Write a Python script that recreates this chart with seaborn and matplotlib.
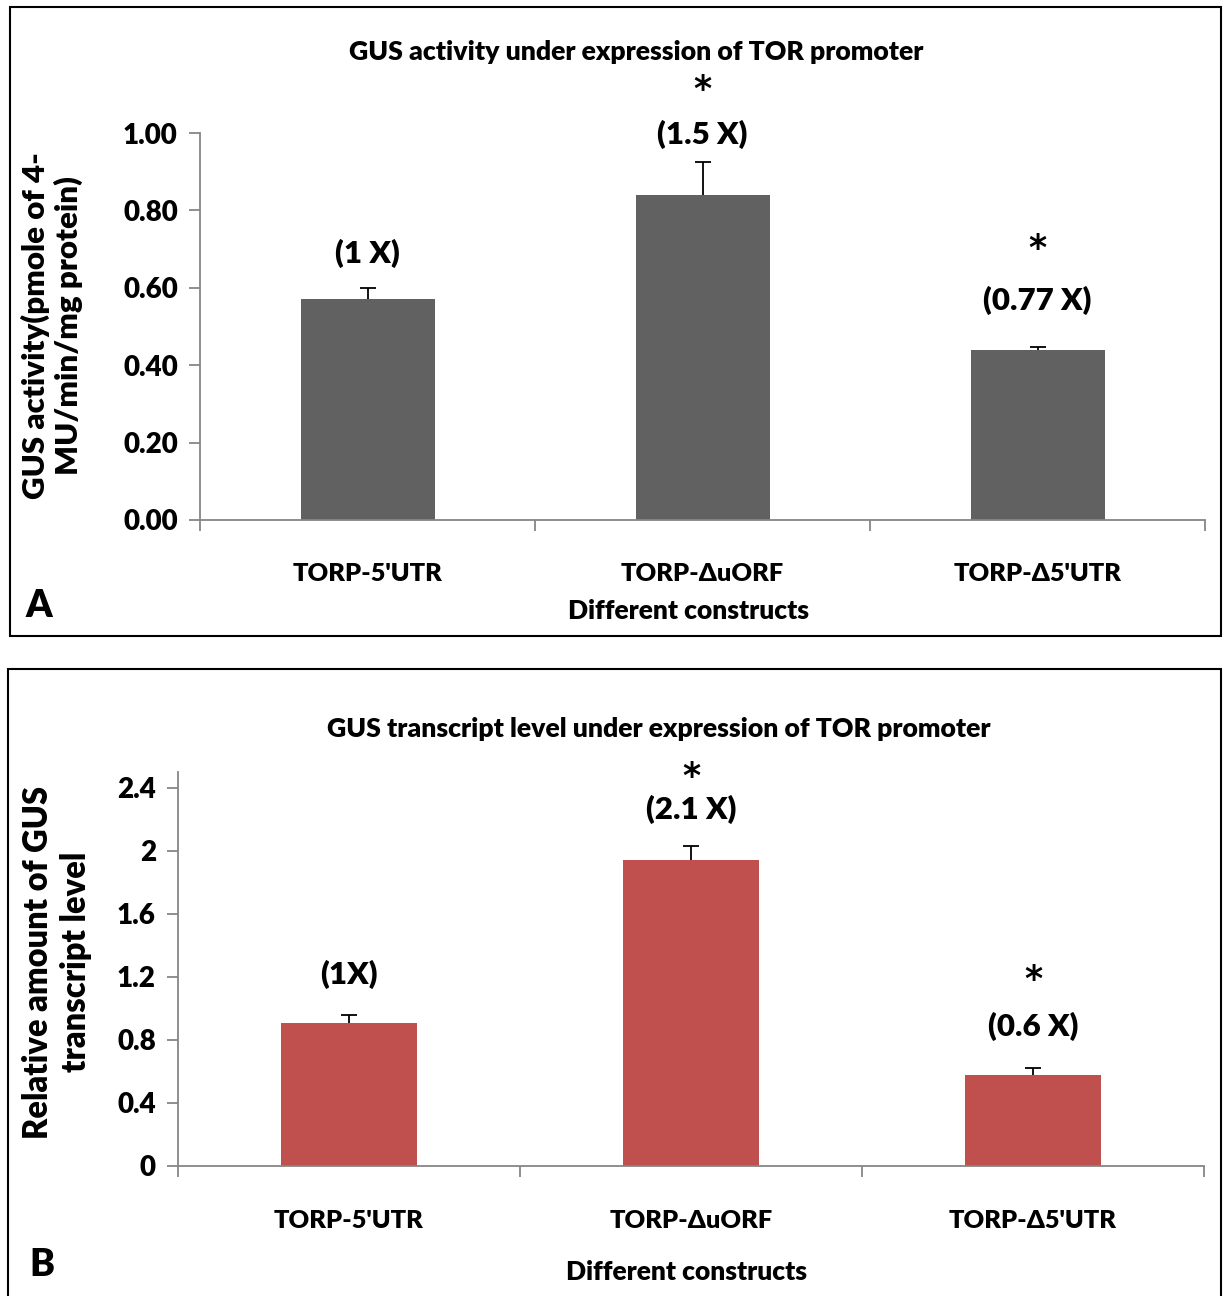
import matplotlib
matplotlib.use("Agg")
import matplotlib.pyplot as plt
from matplotlib.patches import Rectangle
import seaborn as sns
import pandas as pd

sns.set_style("white")
plt.rcParams['font.family'] = ['Lato', 'DejaVu Sans']
plt.rcParams['font.weight'] = 'heavy'
plt.rcParams['text.color'] = 'black'
plt.rcParams['xtick.color'] = 'black'
plt.rcParams['ytick.color'] = 'black'

BOLD = "heavy"

constructs = ["TORP-5'UTR", "TORP-ΔuORF", "TORP-Δ5'UTR"]

# Panel A: GUS activity
gus_activity = [0.57, 0.84, 0.44]
gus_activity_err = [0.03, 0.085, 0.007]
activity_fold = ["(1 X)", "(1.5 X)", "(0.77 X)"]
activity_star = ["", "*", "*"]

# Panel B: GUS transcript level
gus_transcript = [0.91, 1.94, 0.58]
gus_transcript_err = [0.045, 0.09, 0.04]
transcript_fold = ["(1X)", "(2.1 X)", "(0.6 X)"]
transcript_star = ["", "*", "*"]

W, H = 1223, 1296
fig = plt.figure(figsize=(W / 100, H / 100), dpi=100)

AXIS_GREY = "#868686"


def fx(px):
    return px / W


def fy(py):
    return 1 - py / H


def panel(ax, values, errs, color, ylim, yticks, yticklabels,
          folds, stars, fold_y, star_y):
    df = pd.DataFrame({"construct": constructs, "value": values})
    sns.barplot(data=df, x="construct", y="value", color=color, width=0.4,
                saturation=1, errorbar=None, ax=ax, edgecolor="none")
    xs = list(range(len(constructs)))
    _, caps, _ = ax.errorbar(xs, values, yerr=[[0] * len(errs), errs],
                             fmt="none", ecolor="black", elinewidth=1.3,
                             capsize=6, capthick=1.3)
    caps[0].set_visible(False)
    ax.set_xlim(-0.5, len(constructs) - 0.5)
    ax.set_ylim(*ylim)
    ax.set_yticks(yticks)
    ax.set_yticklabels(yticklabels, fontsize=20, fontweight=BOLD)
    ax.set_xticks([-0.5, 0.5, 1.5, 2.5])
    ax.set_xticklabels([])
    for x, name in zip(xs, constructs):
        ax.text(x, -0.14 * ylim[1], name, ha="center", va="center",
                fontsize=18.3, fontweight=BOLD)
    ax.set_xlabel("")
    ax.set_ylabel("")
    for s in ["top", "right"]:
        ax.spines[s].set_visible(False)
    for s in ["left", "bottom"]:
        ax.spines[s].set_color(AXIS_GREY)
        ax.spines[s].set_linewidth(1.3)
    ax.tick_params(axis="both", which="both", direction="out", length=8,
                   width=1.3, color=AXIS_GREY, left=True, bottom=True, pad=8)
    for x, f, fyv in zip(xs, folds, fold_y):
        ax.text(x, fyv, f, ha="center", va="center", fontsize=22.5,
                fontweight=BOLD, clip_on=False)
    for x, st, syv in zip(xs, stars, star_y):
        if st:
            ax.text(x, syv, st, ha="center", va="center", fontsize=25,
                    fontweight="bold", family=["DejaVu Sans"], clip_on=False)


# Panel A
axA = fig.add_axes([fx(200), fy(520), fx(1205) - fx(200), fy(133) - fy(520)])
panel(axA, gus_activity, gus_activity_err, "#616161", (0, 1.0),
      [0, 0.2, 0.4, 0.6, 0.8, 1.0],
      ["0.00", "0.20", "0.40", "0.60", "0.80", "1.00"],
      activity_fold, activity_star, [0.69, 0.997, 0.568], [0.0, 1.11, 0.70])
fig.text(fx(636), fy(52), "GUS activity under expression of TOR promoter",
         ha="center", va="center", fontsize=19.2, fontweight=BOLD)
fig.text(fx(688), fy(611), "Different constructs", ha="center", va="center",
         fontsize=19, fontweight=BOLD)
fig.text(fx(52), fy(326), "GUS activity(pmole of 4-\nMU/min/mg protein)",
         ha="center", va="center", rotation=90, fontsize=22.5,
         fontweight=BOLD, linespacing=1.15)
fig.text(fx(39), fy(606), "A", ha="center", va="center", fontsize=27,
         fontweight=BOLD)
fig.patches.append(Rectangle((fx(10), fy(636)), fx(1221) - fx(10),
                             fy(7) - fy(636), transform=fig.transFigure,
                             fill=False, edgecolor="black", linewidth=1.5))

# Panel B
axB = fig.add_axes([fx(178), fy(1166), fx(1204) - fx(178), fy(772) - fy(1166)])
panel(axB, gus_transcript, gus_transcript_err, "#C0504D", (0, 2.5),
      [0, 0.4, 0.8, 1.2, 1.6, 2.0, 2.4],
      ["0", "0.4", "0.8", "1.2", "1.6", "2", "2.4"],
      transcript_fold, transcript_star, [1.213, 2.26, 0.883], [0.0, 2.47, 1.18])
fig.text(fx(659), fy(729), "GUS transcript level under expression of TOR promoter",
         ha="center", va="center", fontsize=19.2, fontweight=BOLD)
fig.text(fx(686), fy(1272), "Different constructs", ha="center", va="center",
         fontsize=19, fontweight=BOLD)
fig.text(fx(57), fy(962), "Relative amount of GUS\ntranscript level",
         ha="center", va="center", rotation=90, fontsize=23.5,
         fontweight=BOLD, linespacing=1.2)
fig.text(fx(42), fy(1265), "B", ha="center", va="center", fontsize=27,
         fontweight=BOLD)
fig.patches.append(Rectangle((fx(8), fy(1310)), fx(1221) - fx(8),
                             fy(669) - fy(1310), transform=fig.transFigure,
                             fill=False, edgecolor="black", linewidth=1.5,
                             clip_on=False))

fig.savefig("out.png", dpi=100)
